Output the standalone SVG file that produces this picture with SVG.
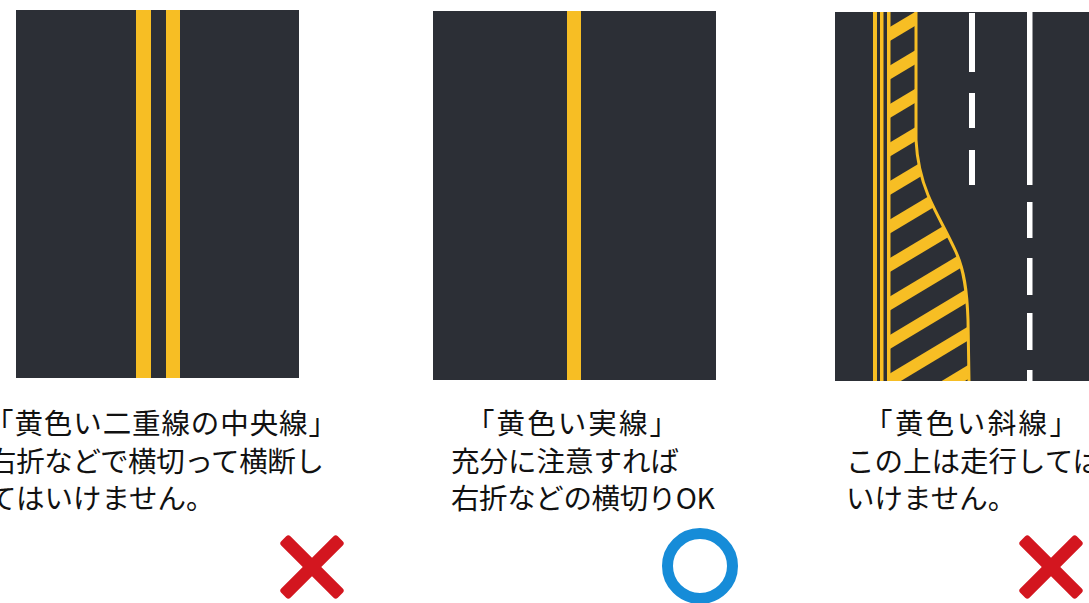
<svg xmlns="http://www.w3.org/2000/svg" width="1089" height="603" viewBox="0 0 1089 603">
  <defs>
    <style>
      .road { fill: #2c2f36; }
      .yl { fill: #f7be24; }
      .wl { fill: #ffffff; }
      .t { font-family: "Noto Sans CJK JP", "Noto Sans", sans-serif; font-size: 28.5px; fill: #111111; }
      .ng { fill: #d3161f; }
      .ok { fill: none; stroke: #168cd8; stroke-width: 11; }
    </style>
    <clipPath id="hatchClip">
      <path d="M889,12 H916 V140 C917,160 921,178 928,195 C936,214 947,232 956,252 C964,270 967,290 968,320 L969,381 H889 Z"/>
    </clipPath>
  </defs>
  <rect width="1089" height="603" fill="#ffffff"/>

  <g id="panel-double-line">
    <rect class="road" x="16" y="10" width="283" height="368"/>
    <rect class="yl" x="136" y="10" width="15" height="368"/>
    <rect class="yl" x="166" y="10" width="14" height="368"/>
    <text class="t" x="-15" y="434" textLength="352" lengthAdjust="spacing">「黄色い二重線の中央線」</text>
    <text class="t" x="-12" y="472" textLength="336" lengthAdjust="spacing">右折などで横切って横断し</text>
    <text class="t" x="-12" y="509">てはいけません。</text>
    <g transform="translate(312,567)">
      <rect class="ng" x="-40" y="-6.5" width="80" height="13" rx="3" transform="rotate(45)"/>
      <rect class="ng" x="-40" y="-6.5" width="80" height="13" rx="3" transform="rotate(-45)"/>
    </g>
  </g>

  <g id="panel-solid-line">
    <rect class="road" x="433" y="11" width="283" height="369"/>
    <rect class="yl" x="567" y="11" width="14" height="369"/>
    <text class="t" x="466" y="434" textLength="212" lengthAdjust="spacing">「黄色い実線」</text>
    <text class="t" x="451" y="472">充分に注意すれば</text>
    <text class="t" x="451" y="509" textLength="264" lengthAdjust="spacing">右折などの横切りOK</text>
    <circle class="ok" cx="700" cy="566" r="32.5"/>
  </g>

  <g id="panel-hatched">
    <rect class="road" x="835" y="12" width="254" height="369"/>
    <rect class="yl" x="873" y="12" width="4" height="369"/>
    <rect class="yl" x="880" y="12" width="3.5" height="369"/>
    <g clip-path="url(#hatchClip)" stroke="#f7be24" stroke-width="12">
      <line x1="880" y1="1.5" x2="980" y2="-58.5"/>
      <line x1="880" y1="40" x2="980" y2="-20"/>
      <line x1="880" y1="78.5" x2="980" y2="18.5"/>
      <line x1="880" y1="117" x2="980" y2="57"/>
      <line x1="880" y1="155.5" x2="980" y2="95.5"/>
      <line x1="880" y1="194" x2="980" y2="134"/>
      <line x1="880" y1="232.5" x2="980" y2="172.5"/>
      <line x1="880" y1="271" x2="980" y2="211"/>
      <line x1="880" y1="309.5" x2="980" y2="249.5"/>
      <line x1="880" y1="348" x2="980" y2="288"/>
      <line x1="880" y1="386.5" x2="980" y2="326.5"/>
      <line x1="880" y1="425" x2="980" y2="365"/>
      <line x1="880" y1="463.5" x2="980" y2="403.5"/>
    </g>
    <rect class="yl" x="887" y="12" width="3.5" height="369"/>
    <path d="M916,12 V140 C917,160 921,178 928,195 C936,214 947,232 956,252 C964,270 967,290 968,320 L969,381" fill="none" stroke="#f7be24" stroke-width="3"/>
    <rect class="wl" x="969" y="13" width="6" height="59"/>
    <rect class="wl" x="969" y="93" width="6" height="35"/>
    <rect class="wl" x="969" y="150" width="6" height="35"/>
    <rect class="wl" x="1027" y="12" width="5.5" height="173"/>
    <rect class="wl" x="1027" y="202" width="5.5" height="36"/>
    <rect class="wl" x="1027" y="258" width="5.5" height="37"/>
    <rect class="wl" x="1027" y="313" width="5.5" height="37"/>
    <rect class="wl" x="1027" y="370" width="5.5" height="11"/>
    <text class="t" x="864" y="434" textLength="214" lengthAdjust="spacing">「黄色い斜線」</text>
    <text class="t" x="846" y="472">この上は走行しては</text>
    <text class="t" x="846" y="509">いけません。</text>
    <g transform="translate(1051,567)">
      <rect class="ng" x="-40" y="-6.5" width="80" height="13" rx="3" transform="rotate(45)"/>
      <rect class="ng" x="-40" y="-6.5" width="80" height="13" rx="3" transform="rotate(-45)"/>
    </g>
  </g>
</svg>
